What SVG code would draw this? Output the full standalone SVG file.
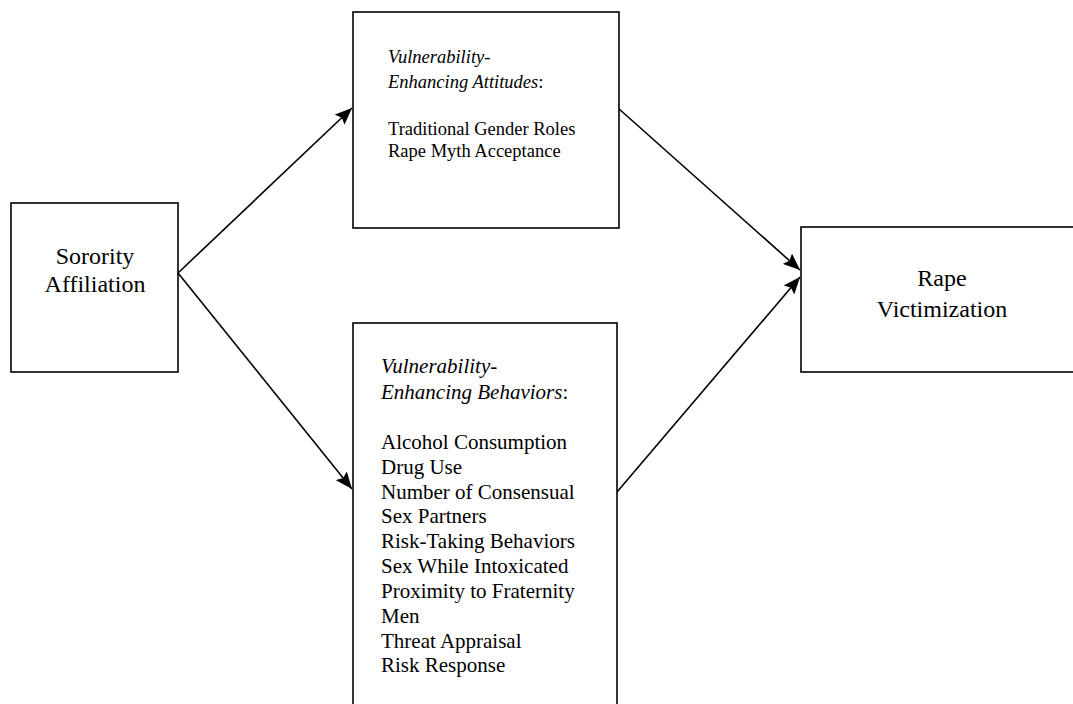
<svg xmlns="http://www.w3.org/2000/svg" width="1073" height="704" viewBox="0 0 1073 704">
<style>
.box{fill:#fff;stroke:#000;stroke-width:1.6}
.big{font-family:"Liberation Serif","Times New Roman",serif;font-size:24px;fill:#000}
.sm{font-family:"Liberation Serif","Times New Roman",serif;font-size:18.5px;fill:#000}
.md{font-family:"Liberation Serif","Times New Roman",serif;font-size:21px;fill:#000}
.it{font-style:italic}
.conn{stroke:#000;stroke-width:1.6;fill:none;marker-end:url(#ah)}
</style>
<defs>
<marker id="ah" markerWidth="18" markerHeight="14" refX="17" refY="7" orient="auto" markerUnits="userSpaceOnUse" viewBox="0 0 18 14">
<path d="M0,0 L17,7 L0,14 L3,7 Z" fill="#000"/>
</marker>
</defs>
<rect width="1073" height="704" fill="#fff"/>
<g id="connectors">
<line class="conn" x1="178" y1="273" x2="352" y2="108"/>
<line class="conn" x1="178" y1="273" x2="352" y2="489"/>
<line class="conn" x1="618" y1="108" x2="800" y2="270"/>
<line class="conn" x1="617" y1="492" x2="800" y2="277"/>
</g>
<g id="sorority">
<rect class="box" x="11" y="203" width="167" height="169"/>
<text class="big" x="95" y="264" text-anchor="middle">Sorority</text>
<text class="big" x="95" y="292" text-anchor="middle">Affiliation</text>
</g>
<g id="attitudes">
<rect class="box" x="353" y="12" width="266" height="216"/>
<text class="sm" x="388" y="63"><tspan class="it">Vulnerability-</tspan></text>
<text class="sm" x="388" y="88"><tspan class="it">Enhancing Attitudes</tspan>:</text>
<text class="sm" x="388" y="135">Traditional Gender Roles</text>
<text class="sm" x="388" y="157">Rape Myth Acceptance</text>
</g>
<g id="behaviors">
<rect class="box" x="353" y="323" width="264" height="400"/>
<text class="md" x="381" y="373"><tspan class="it">Vulnerability-</tspan></text>
<text class="md" x="381" y="399"><tspan class="it">Enhancing Behaviors</tspan>:</text>
<text class="md" x="381" y="449">Alcohol Consumption</text>
<text class="md" x="381" y="474">Drug Use</text>
<text class="md" x="381" y="499">Number of Consensual</text>
<text class="md" x="381" y="523">Sex Partners</text>
<text class="md" x="381" y="548">Risk-Taking Behaviors</text>
<text class="md" x="381" y="573">Sex While Intoxicated</text>
<text class="md" x="381" y="598">Proximity to Fraternity</text>
<text class="md" x="381" y="623">Men</text>
<text class="md" x="381" y="648">Threat Appraisal</text>
<text class="md" x="381" y="672">Risk Response</text>
</g>
<g id="rape">
<rect class="box" x="801" y="227" width="290" height="145"/>
<text class="big" x="942" y="286" text-anchor="middle">Rape</text>
<text class="big" x="942" y="317" text-anchor="middle">Victimization</text>
</g>
</svg>
